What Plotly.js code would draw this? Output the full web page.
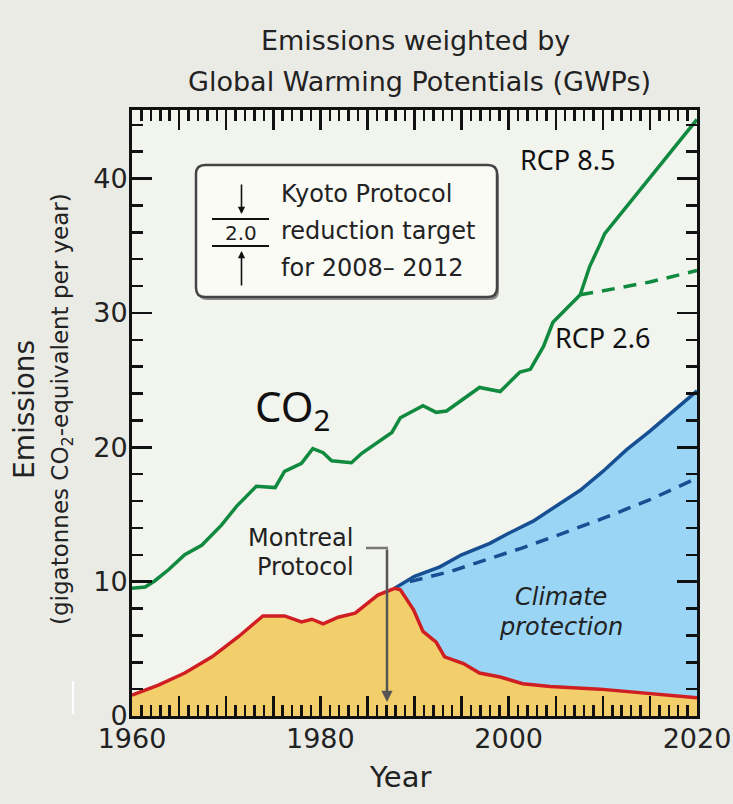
<!DOCTYPE html>
<html>
<head>
<meta charset="utf-8">
<script src="https://cdn.plot.ly/plotly-3.0.1.min.js"></script>
<style>
  html, body { margin: 0; padding: 0; background: #ebebe6; }
  #chart { width: 733px; height: 804px; }
</style>
</head>
<body>
<div id="chart"></div>
<script>
// ---------------- data ----------------
const co2Years = [1960, 1961.4, 1962.4, 1963.9, 1965.6, 1967.4, 1969.5, 1971.1, 1973.2, 1975.2, 1976.2, 1978.0, 1979.2, 1980.3, 1981.2, 1983.3, 1984.4, 1987.6, 1988.5, 1990.9, 1992.3, 1993.4, 1996.9, 1999.1, 2001.2, 2002.3, 2003.7, 2004.7, 2007.6, 2008.6, 2009.7, 2010.2, 2020];
const co2Values = [9.5, 9.6, 10.05, 10.9, 12.0, 12.7, 14.2, 15.6, 17.1, 17.0, 18.2, 18.8, 19.9, 19.6, 19.0, 18.85, 19.55, 21.1, 22.2, 23.1, 22.6, 22.7, 24.45, 24.15, 25.6, 25.8, 27.5, 29.3, 31.35, 33.45, 35.1, 35.9, 44.4];

const rcp26Years = [2007.6, 2009.7, 2015.0, 2017.8, 2020];
const rcp26Values = [31.35, 31.6, 32.3, 32.8, 33.15];

const odsYears = [1960, 1962.8, 1965.6, 1968.5, 1971.3, 1973.9, 1976.2, 1978.0, 1979.1, 1980.3, 1981.9, 1983.7, 1986.1, 1987.9, 1988.5, 1989.9, 1990.9, 1992.3, 1993.2, 1995.2, 1996.9, 1999.1, 2001.5, 2004.4, 2009.7, 2015.0, 2020];
const odsValues = [1.55, 2.3, 3.2, 4.4, 5.9, 7.45, 7.45, 7.0, 7.2, 6.85, 7.35, 7.65, 9.0, 9.5, 9.4, 7.9, 6.3, 5.5, 4.4, 3.9, 3.2, 2.9, 2.4, 2.2, 2.0, 1.65, 1.35];

const noMontrealYears = [1987.9, 1990, 1992.7, 1995, 1998, 2000, 2002.6, 2005, 2007.6, 2010, 2012.5, 2015, 2020];
const noMontrealValues = [9.5, 10.4, 11.1, 12.0, 12.85, 13.6, 14.5, 15.6, 16.8, 18.2, 19.8, 21.2, 24.2];

const noMontrealLowYears = [1989.5, 1993.8, 1996.6, 2001.4, 2005, 2010, 2015, 2020];
const noMontrealLowValues = [10.0, 10.75, 11.4, 12.5, 13.4, 14.7, 16.1, 17.7];

const montrealYear = 1987.9;

const xTickVals = [1960, 1965, 1970, 1975, 1980, 1985, 1990, 1995, 2000, 2005, 2010, 2015, 2020];
const xTickText = ['1960', '', '', '', '1980', '', '', '', '2000', '', '', '', '2020'];
const yTickVals = [0, 10, 20, 30, 40];
const yTickText = ['0', '10', '20', '30', '40'];

// ---------------- styling ----------------
const GREEN = '#0f8a3e';
const RED = '#d01f23';
const BLUE = '#164f92';
const YELLOW = '#f3cf6b';
const LIGHTBLUE = '#9ad5f5';
const FONT = 'DejaVu Sans, Liberation Sans, sans-serif';
const FONT2 = 'Noto Sans, Open Sans, sans-serif';

// plot-area pixel box (for placing decorations)
const L = 132, R = 697, T = 110, B = 716;
const PX = px => (px - L) / (R - L);
const PY = py => (B - py) / (B - T);

// ODS values after the Montreal Protocol (lower edge of the blue area)
const odsAfterYears = odsYears.filter(y => y >= montrealYear);
const odsAfterValues = odsValues.filter((v, i) => odsYears[i] >= montrealYear);

const traces = [
  { x: odsYears, y: odsValues, type: 'scatter', mode: 'lines', fill: 'tozeroy',
    fillcolor: YELLOW, line: { width: 0, color: YELLOW }, hoverinfo: 'skip' },
  { x: odsAfterYears, y: odsAfterValues, type: 'scatter', mode: 'lines',
    line: { width: 0, color: RED }, hoverinfo: 'skip' },
  { x: noMontrealYears, y: noMontrealValues, type: 'scatter', mode: 'lines', fill: 'tonexty',
    fillcolor: LIGHTBLUE, line: { width: 3.5, color: BLUE } },
  { x: noMontrealLowYears, y: noMontrealLowValues, type: 'scatter', mode: 'lines',
    line: { width: 3.5, color: BLUE, dash: '13px,9px' } },
  { x: odsYears, y: odsValues, type: 'scatter', mode: 'lines',
    line: { width: 3.5, color: RED } },
  { x: rcp26Years, y: rcp26Values, type: 'scatter', mode: 'lines',
    line: { width: 3.5, color: GREEN, dash: '13px,9px' } },
  { x: co2Years, y: co2Values, type: 'scatter', mode: 'lines',
    line: { width: 3.5, color: GREEN } }
];

// rounded rectangle path in paper coords
function roundRect(x0, y0, x1, y1, r) {
  const rx = r / (R - L), ry = r / (B - T);
  const a = PX(x0), b = PX(x1), top = PY(y0), bot = PY(y1);
  return `M ${a + rx},${top} L ${b - rx},${top} Q ${b},${top} ${b},${top - ry} ` +
         `L ${b},${bot + ry} Q ${b},${bot} ${b - rx},${bot} L ${a + rx},${bot} ` +
         `Q ${a},${bot} ${a},${bot + ry} L ${a},${top - ry} Q ${a},${top} ${a + rx},${top} Z`;
}

const shapes = [
  // Kyoto box shadow + box
  { type: 'path', xref: 'paper', yref: 'paper', path: roundRect(198, 168, 499, 300, 9),
    fillcolor: '#8c8c88', line: { width: 0 } },
  { type: 'path', xref: 'paper', yref: 'paper', path: roundRect(196, 165, 497, 297, 9),
    fillcolor: '#fbfbf6', line: { width: 2.5, color: '#444' } },
  // 2.0 bars
  { type: 'line', xref: 'paper', yref: 'paper', x0: PX(212), x1: PX(269), y0: PY(219), y1: PY(219),
    line: { width: 2, color: '#111' } },
  { type: 'line', xref: 'paper', yref: 'paper', x0: PX(212), x1: PX(269), y0: PY(246), y1: PY(246),
    line: { width: 2, color: '#111' } },
  // Montreal bracket (horizontal part)
  { type: 'line', xref: 'paper', yref: 'paper', x0: PX(366), x1: PX(388), y0: PY(548), y1: PY(548),
    line: { width: 2.5, color: '#777' } },
  // white artifact mark at left
  { type: 'line', xref: 'paper', yref: 'paper', x0: PX(73), x1: PX(73), y0: PY(681), y1: PY(714),
    line: { width: 2, color: '#ffffff' } }
];

const ann = (text, px, py, size, opts = {}) => Object.assign({
  text, xref: 'paper', yref: 'paper', x: PX(px), y: PY(py), showarrow: false,
  font: { family: FONT, size, color: '#222' }, xanchor: 'center', yanchor: 'middle'
}, opts);

const annotations = [
  ann('Emissions weighted by', 415, 41, 27),
  ann('Global Warming Potentials (GWPs)', 419, 81, 27),
  ann('Year', 400, 777, 29),
  ann('Emissions', 24, 410, 28, { textangle: -90 }),
  ann('(gigatonnes CO<sub>2</sub>-equivalent per year)', 62, 409, 23, { textangle: -90 }),
  ann('Kyoto Protocol', 279, 194, 24, { xanchor: 'left' }),
  ann('reduction target', 279, 231, 24, { xanchor: 'left' }),
  ann('for 2008– 2012', 279, 268, 24, { xanchor: 'left' }),
  ann('2.0', 241, 233, 20),
  ann('RCP 8.5', 567, 159, 27, { font: { family: FONT2, size: 27, color: '#111' } }),
  ann('RCP 2.6', 602, 337, 27, { font: { family: FONT2, size: 27, color: '#111' } }),
  ann('CO<sub>2</sub>', 292, 408, 42, { font: { family: FONT2, size: 42, color: '#111' } }),
  ann('Montreal', 356, 538, 24, { xanchor: 'right' }),
  ann('Protocol', 356, 567, 24, { xanchor: 'right' }),
  ann('<i>Climate</i>', 561, 597, 24),
  ann('<i>protection</i>', 561, 627, 24),
  // arrows in Kyoto box
  { xref: 'paper', yref: 'paper', x: PX(241.5), y: PY(214), ax: 0, ay: -31, text: '',
    showarrow: true, arrowhead: 2, arrowsize: 0.9, arrowwidth: 1.6, arrowcolor: '#111' },
  { xref: 'paper', yref: 'paper', x: PX(241.5), y: PY(251), ax: 0, ay: 36, text: '',
    showarrow: true, arrowhead: 2, arrowsize: 0.9, arrowwidth: 1.6, arrowcolor: '#111' },
  // Montreal arrow
  { xref: 'paper', yref: 'paper', x: PX(387), y: PY(702), ax: 0, ay: -154, text: '',
    showarrow: true, arrowhead: 2, arrowsize: 0.9, arrowwidth: 2.5, arrowcolor: '#555' }
];

const axisCommon = {
  showline: true, linewidth: 3, linecolor: '#111', mirror: 'ticks',
  ticks: 'inside', ticklen: 20, tickwidth: 2.5, tickcolor: '#111',
  tickfont: { family: FONT, size: 27, color: '#222' },
  showgrid: false, zeroline: false, layer: 'above traces', fixedrange: true
};

const layout = {
  width: 733, height: 804,
  margin: { l: L, r: 733 - R, t: T, b: 804 - B },
  paper_bgcolor: '#ebebe6', plot_bgcolor: '#f2f4ee',
  showlegend: false,
  xaxis: Object.assign({}, axisCommon, {
    range: [1960, 2020], tickmode: 'array', tickvals: xTickVals, ticktext: xTickText,
    ticklabelstandoff: -3,
    minor: { tick0: 1960, dtick: 1, ticks: 'inside', ticklen: 11, tickwidth: 2.5, tickcolor: '#111' }
  }),
  yaxis: Object.assign({}, axisCommon, {
    range: [0, 45.1], tickmode: 'array', tickvals: yTickVals, ticktext: yTickText,
    ticklabelstandoff: -4,
    minor: { tick0: 0, dtick: 2, ticks: 'inside', ticklen: 11, tickwidth: 2.5, tickcolor: '#111' }
  }),
  shapes, annotations
};

Plotly.newPlot('chart', traces, layout, { displayModeBar: false, staticPlot: true });
</script>
</body>
</html>
